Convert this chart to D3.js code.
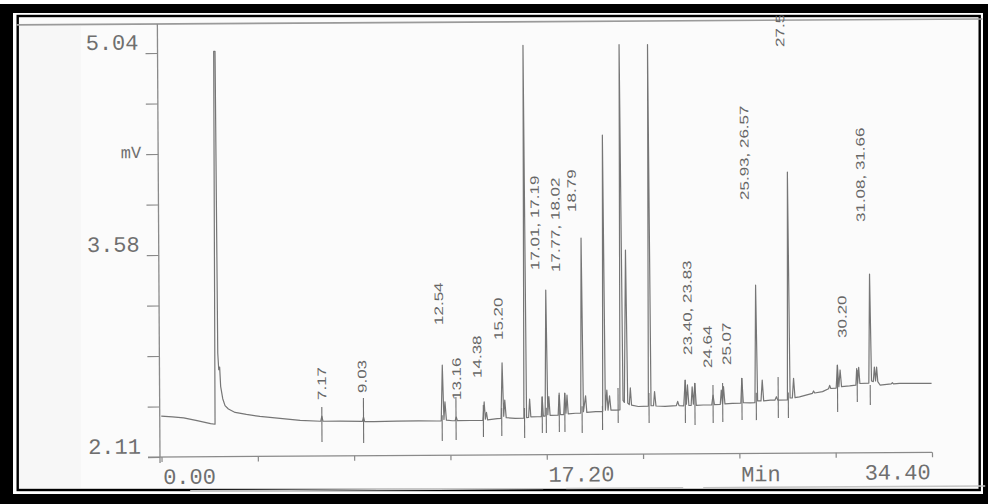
<!DOCTYPE html>
<html><head><meta charset="utf-8">
<script src="https://cdn.jsdelivr.net/npm/d3@7"></script>
<style>html,body{margin:0;padding:0;background:#fff;}svg{display:block;}</style>
</head><body>
<svg id="c" width="988" height="504"></svg>
<script>
// ---------- DATA ----------
const traceTime = [0.00,0.50,1.00,1.60,2.20,2.40,2.44,2.50,2.54,2.58,2.62,2.66,2.75,2.85,3.00,3.30,3.80,4.40,5.30,6.20,
  7.12,7.17,7.22,8.00,8.98,9.03,9.08,9.50,10.50,11.50,12.30,12.50,12.56,12.62,12.67,12.73,13.00,13.12,13.17,13.22,13.80,
  14.36,14.42,14.47,14.52,14.57,15.00,15.17,15.23,15.29,15.34,15.40,15.80,16.19,16.25,16.31,16.40,16.45,16.50,16.80,
  16.97,17.01,17.06,17.14,17.20,17.26,17.31,17.36,17.72,17.77,17.82,17.97,18.02,18.07,18.12,18.17,18.50,18.73,18.79,18.85,
  18.95,19.00,19.40,19.71,19.77,19.83,19.90,19.95,20.02,20.08,20.30,20.48,20.54,20.62,20.68,20.77,20.83,20.90,20.95,21.00,
  21.30,21.75,21.81,21.87,21.98,22.03,22.09,22.50,23.00,23.06,23.12,23.33,23.40,23.45,23.50,23.56,23.66,23.71,23.76,23.83,23.89,
  24.20,24.58,24.64,24.70,24.96,25.01,25.06,25.11,25.17,25.50,25.88,25.93,25.99,26.30,26.51,26.57,26.63,26.78,26.84,26.90,
  27.20,27.40,27.47,27.53,27.96,28.02,28.08,28.18,28.24,28.30,28.50,29.08,29.13,29.18,29.53,29.80,29.85,29.90,30.14,30.20,
  30.26,30.32,30.38,30.74,31.02,31.06,31.10,31.15,31.20,31.60,31.66,31.72,31.80,31.85,31.90,31.95,32.00,32.10,32.60,32.65,
  32.70,32.97,34.40];
const traceMV = [2.407,2.400,2.393,2.372,2.350,2.345,5.05,5.05,2.86,2.74,2.76,2.62,2.53,2.48,2.455,2.43,2.415,2.40,2.385,2.37,
  2.362,2.40,2.362,2.362,2.360,2.39,2.358,2.357,2.36,2.36,2.359,2.36,2.764,2.37,2.497,2.365,2.36,2.36,2.387,2.36,2.361,
  2.362,2.495,2.37,2.42,2.365,2.374,2.374,2.777,2.39,2.508,2.38,2.375,2.376,5.08,2.38,2.38,2.514,2.385,2.385,
  2.386,2.53,2.39,2.39,3.304,2.40,2.53,2.395,2.395,2.555,2.40,2.40,2.555,2.41,2.54,2.405,2.409,2.41,3.679,2.42,
  2.535,2.415,2.42,2.42,4.425,2.43,2.576,2.43,2.534,2.43,2.43,2.432,5.08,2.50,2.485,3.59,2.48,2.47,2.59,2.465,
  2.455,2.458,5.08,2.46,2.46,2.562,2.458,2.455,2.46,2.49,2.46,2.458,2.645,2.47,2.609,2.46,2.46,2.596,2.47,2.62,2.46,
  2.463,2.463,2.535,2.465,2.466,2.571,2.47,2.595,2.47,2.473,2.475,2.655,2.478,2.476,2.478,3.33,2.49,2.49,2.641,2.49,
  2.496,2.495,2.52,2.495,2.496,4.149,2.51,2.51,2.653,2.512,2.518,2.543,2.56,2.545,2.555,2.575,2.60,2.577,2.58,2.747,
  2.59,2.711,2.59,2.595,2.60,2.72,2.615,2.73,2.612,2.615,3.405,2.63,2.625,2.73,2.63,2.73,2.625,2.60,2.608,2.616,
  2.608,2.611,2.61];

const markerTimes  = [7.17,9.03,12.54,13.16,14.38,15.20,16.22,17.01,17.19,17.77,18.02,18.79,19.70,20.40,21.78,23.40,23.83,24.64,25.07,25.93,26.57,27.55,28.00,30.20,31.08,31.66];
const markerTop    = [2.466,2.529,2.40,2.532,2.473,2.45,2.45,2.53,2.45,2.542,2.556,2.46,2.46,2.59,2.552,2.645,2.623,2.607,2.622,2.657,2.55,2.662,2.55,2.747,2.71,2.60];
const markerBottom = [2.212,2.203,2.213,2.220,2.241,2.247,2.232,2.267,2.267,2.273,2.273,2.265,2.286,2.337,2.335,2.334,2.318,2.332,2.339,2.352,2.351,2.365,2.365,2.406,2.478,2.455];

const labelTexts  = ["7.17","9.03","12.54","13.16","14.38","15.20","17.01, 17.19","17.77, 18.02","18.79","23.40, 23.83","24.64","25.07","25.93, 26.57","27.5","30.20","31.08, 31.66"];
const labelTimes  = [7.17,8.97,12.41,13.19,14.11,15.07,16.72,17.64,18.37,23.51,24.40,25.25,26.09,27.72,30.42,31.27];
const labelLevels = [2.516,2.565,3.055,2.510,2.669,2.943,3.449,3.434,3.869,2.827,2.731,2.752,3.948,5.056,2.943,3.783];

const yTickValues = [2.11,2.47625,2.8425,3.20875,3.575,3.94125,4.3075,4.67375,5.04];
const yTickLabels = ["2.11","","","","3.58","","mV","","5.04"];
const xTickValues = [0,4.3,8.6,12.9,17.2,21.5,25.8,30.1,34.4];
const xTickLabels = ["0.00","","","","17.20","","","","34.40"];
const xTitle = "Min";

// ---------- DRAW ----------
const svg = d3.select("#c");
const W = 988, H = 504;
svg.append("rect").attr("width", W).attr("height", H).attr("fill", "#ffffff");
// scanned black border
svg.append("rect").attr("x", 0).attr("y", 4).attr("width", W).attr("height", H - 4).attr("fill", "#000");
svg.append("rect").attr("x", 13).attr("y", 13).attr("width", 970).attr("height", 481).attr("fill", "#fff");
svg.append("rect").attr("x", 17.7).attr("y", 16).attr("width", 962).attr("height", 474)
  .attr("fill", "#fbfbfb").attr("stroke", "#000").attr("stroke-width", 2.4);
svg.append("rect").attr("x", 19).attr("y", 26).attr("width", 62).attr("height", 462).attr("fill", "#f7f7f7");

const x = d3.scaleLinear().domain([0, 34.4]).range([161.5, 932]);
const y = d3.scaleLinear().domain([2.11, 5.04]).range([457, 53]);

const grey = "#6f6f6f";
const g = svg.append("g").attr("transform", "rotate(-0.35,160,457)");

svg.append("defs").append("clipPath").attr("id", "plotclip")
  .append("rect").attr("x", 18).attr("y", 19.5).attr("width", 962).attr("height", 470);

// frame top line
g.append("line").attr("x1", 19).attr("x2", 985).attr("y1", 24).attr("y2", 24)
  .attr("stroke", "#9a9a9a").attr("stroke-width", 1.6);
// bottom paper line segments
[[190, 543], [566, 683], [703, 985]].forEach(s => {
  g.append("line").attr("x1", s[0]).attr("x2", s[1]).attr("y1", 491).attr("y2", 491)
    .attr("stroke", "#c4c4c4").attr("stroke-width", 1.4);
});

// y axis
const yAxis = d3.axisLeft(y).tickValues(yTickValues).tickSize(12).tickSizeOuter(0).tickPadding(7)
  .tickFormat((d, i) => yTickLabels[i]);
const ya = g.append("g").attr("transform", "translate(160,0)").call(yAxis);
ya.select(".domain").remove();
ya.selectAll(".tick line").attr("stroke", "#8a8a8a").attr("stroke-width", 1.2);
ya.selectAll(".tick text").attr("fill", grey).attr("font-family", "'Liberation Mono', 'DejaVu Sans Mono', monospace")
  .attr("font-size", (d, i) => yTickLabels[i] === "mV" ? 17 : 22)
  .attr("dy", (d, i) => yTickLabels[i] === "mV" ? "0.2em" : "-0.18em")
  .attr("x", (d, i) => yTickLabels[i] === "mV" ? -17 : -19);
g.append("line").attr("x1", 160).attr("x2", 160).attr("y1", 24).attr("y2", 463)
  .attr("stroke", "#8a8a8a").attr("stroke-width", 1.3);

// x axis
const xAxis = d3.axisBottom(x).tickValues(xTickValues).tickSize(5).tickSizeOuter(0)
  .tickFormat((d, i) => xTickLabels[i]);
const xa = g.append("g").attr("transform", "translate(0,457)").call(xAxis);
xa.select(".domain").remove();
xa.selectAll(".tick line").attr("stroke", "#8a8a8a").attr("stroke-width", 1.2);
xa.selectAll(".tick text").attr("fill", grey).attr("font-family", "'Liberation Mono', 'DejaVu Sans Mono', monospace")
  .attr("font-size", 22).attr("dy", 0).attr("y", 27)
  .attr("text-anchor", (d, i) => i === xTickValues.length - 1 ? "end" : "start")
  .attr("x", (d, i) => i === xTickValues.length - 1 ? -2 : 1);
g.append("line").attr("x1", 148).attr("x2", x(34.4)).attr("y1", 457).attr("y2", 457)
  .attr("stroke", "#8a8a8a").attr("stroke-width", 1.3);
g.append("text").attr("x", 741).attr("y", 485).text(xTitle)
  .attr("fill", grey).attr("font-family", "'Liberation Mono', 'DejaVu Sans Mono', monospace").attr("font-size", 22);

// plot contents
const pg = g.append("g").attr("clip-path", "url(#plotclip)");
const pts = traceTime.map((t, i) => [t, traceMV[i]]);
pg.append("path").datum(pts)
  .attr("d", d3.line().x(d => x(d[0])).y(d => y(d[1])))
  .attr("fill", "none").attr("stroke", "#767676").attr("stroke-width", 1.2).attr("stroke-linejoin", "round");

pg.selectAll("line.mk").data(markerTimes).join("line").attr("class", "mk")
  .attr("x1", d => x(d)).attr("x2", d => x(d))
  .attr("y1", (d, i) => y(markerTop[i])).attr("y2", (d, i) => y(markerBottom[i]))
  .attr("stroke", "#707070").attr("stroke-width", 1.1);

pg.selectAll("text.lb").data(labelTexts).join("text").attr("class", "lb")
  .attr("transform", (d, i) => `translate(${x(labelTimes[i])},${y(labelLevels[i])}) rotate(-90) scale(1,0.72)`)
  .attr("dy", "0.36em").attr("text-anchor", "start")
  .attr("font-family", "'Liberation Sans', Arial, sans-serif").attr("font-size", 17)
  .attr("fill", "#666").text(d => d);
</script>
</body></html>
